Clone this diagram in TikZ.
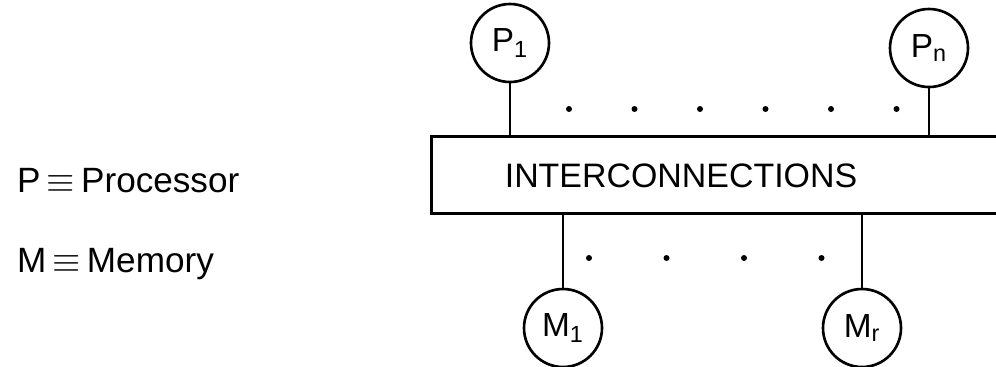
\documentclass[tikz,border=0pt]{standalone}
\usepackage{fontspec}
\setmainfont{Liberation Sans}

\begin{document}
\begin{tikzpicture}[line width=1.5pt,
    unit/.style={draw,circle,minimum size=1.56cm,inner sep=0pt,font=\fontsize{19}{22}\selectfont},
    legend/.style={anchor=base west,font=\fontsize{20}{24}\selectfont}]
                \useasboundingbox (0,0) rectangle (19.92,-7.32);
                % left: what the letters stand for
                \node[legend] (legp) at (0.2,-3.84) {P$\,\equiv\,$Processor};
                \node[legend] (legm) at (0.2,-5.44) {M$\,\equiv\,$Memory};
                % the interconnection box runs off the right edge
                \node[draw,minimum width=11.9cm,minimum height=1.54cm,anchor=north west] (ic) at (8.6,-2.7) {};
                \node[font=\fontsize{19.3}{22}\selectfont] (ictext) at (13.62,-3.52) {INTERCONNECTIONS};
                \node[unit] (p1) at (10.2,-0.86) {P\textsubscript{1}};
                \node[unit] (pn) at (18.58,-0.96) {P\textsubscript{n}};
                \node[unit] (m1) at (11.26,-6.56) {M\textsubscript{1}};
                \node[unit] (mr) at (17.24,-6.56) {M\textsubscript{r}};
                \draw (p1) -- (p1 |- ic.north);
                \draw (pn) -- (pn |- ic.north);
                \draw (m1) -- (m1 |- ic.south);
                \draw (mr) -- (mr |- ic.south);
                \foreach \i in {0,...,5}{
                    \fill (11.38+1.31*\i,-2.18) circle (0.06);
                }
                \foreach \i in {0,...,3}{
                    \fill (11.78+1.55*\i,-5.16) circle (0.06);
                }
            \end{tikzpicture}
\end{document}
